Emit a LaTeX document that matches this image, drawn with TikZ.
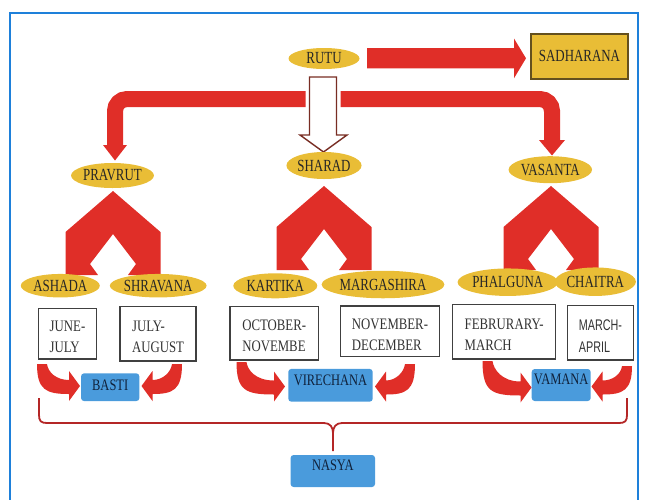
\documentclass[tikz,border=0pt]{standalone}
\usepackage{fontspec}
\setmainfont{Liberation Serif}
\newfontfamily\elfont[FakeStretch=0.76]{Liberation Serif}
\newfontfamily\mfont[FakeStretch=0.8]{Liberation Serif}
\newfontfamily\msans[FakeStretch=0.7]{Liberation Sans}
\newfontfamily\bluefont[FakeStretch=0.78]{Liberation Serif}
\usetikzlibrary{shapes.geometric}
\definecolor{gold}{RGB}{233,189,54}
\definecolor{arrred}{RGB}{224,46,40}
\definecolor{boxblue}{RGB}{74,155,220}
\definecolor{framebl}{RGB}{30,128,218}
\definecolor{bracered}{RGB}{180,38,38}
\definecolor{hollowbr}{RGB}{120,45,35}
\definecolor{goldedge}{RGB}{100,80,30}
\definecolor{navytext}{RGB}{16,33,58}
\newcommand\chevronat[2]{%
  \fill[arrred, shift={(#1,#2)}] (0,0) -- (-47.5,41) -- (-47.5,84) -- (-15,84)
    -- (-23,73) -- (0,43) -- (23,73) -- (15,84) -- (47.5,84) -- (47.5,41) -- cycle;}
\newcommand\cvarrow[5]{%
  \fill[arrred] ({#1-5*#5},#2) .. controls ({#1-5*#5},{#4+4}) and ({#1+4*#5},{#4+8}) .. ({#3-11*#5},{#4+8})
    -- ({#3-11*#5},{#4+15}) -- (#3,#4) -- ({#3-11*#5},{#4-15}) -- ({#3-11*#5},{#4-6})
    .. controls ({#1+14*#5},{#4-6}) and ({#1+6*#5},{#2+8}) .. ({#1+5*#5},#2) -- cycle;}
\begin{document}
\begin{tikzpicture}[x=1pt,y=-1pt,
  season/.style={ellipse, fill=gold, inner sep=0pt, font=\elfont\fontsize{17}{20}\selectfont, text=black!85},
  month/.style={draw=black!75, line width=1.3pt, fill=white, inner sep=0pt, align=left,
    font=\mfont\fontsize{16}{21}\selectfont, text=black!80},
  therapy/.style={fill=boxblue, rounded corners=3pt, inner sep=0pt,
    font=\bluefont\fontsize{16}{18}\selectfont, text=navytext},
  redbar/.style={draw=arrred, line width=16pt, rounded corners=12pt},
  brace/.style={draw=bracered, line width=1.8pt}
]
\useasboundingbox (0,0) rectangle (650,499);
\draw[framebl, line width=1.5pt] (10,13) rectangle (638,530);

% bent red bar from RUTU
\coordinate (lb) at (115,146);
\coordinate (rb) at (552,141);
\draw[redbar] (lb) -- (115,99) -- (552,99) -- (rb);
\fill[arrred] (103,145) -- (127,145) -- (115,160.5) -- cycle;
\fill[arrred] (539,140) -- (565,140) -- (552,155.5) -- cycle;

% hollow arrow to SHARAD
\draw[white, line width=8pt] (309.5,77) -- (336.5,77) -- (336.5,135) -- (347,135) -- (323.5,152) -- (300,135) -- (309.5,135) -- cycle;
\draw[hollowbr, fill=white, line width=1.4pt] (309.5,77) -- (336.5,77) -- (336.5,135) -- (347,135) -- (323.5,152) -- (300,135) -- (309.5,135) -- cycle;

% straight arrow to SADHARANA
\fill[arrred] (367,48) -- (514,48) -- (514,38.5) -- (526,58.3) -- (514,78.3) -- (514,68.3) -- (367,68.3) -- cycle;

% chevrons
\chevronat{113}{191}
\chevronat{324}{186}
\chevronat{551}{186}

% curved arrows
\cvarrow{42}{364}{80}{386}{1}
\cvarrow{177}{364}{141.5}{386}{-1}
\cvarrow{241.5}{362}{285}{386.5}{1}
\cvarrow{410}{364}{375}{386.5}{-1}
\cvarrow{487.5}{361}{531.5}{387.5}{1}
\cvarrow{627}{366}{591.5}{386.5}{-1}

% brace
\draw[brace] (39,398) -- (39,415) .. controls (39,421) and (41,423) .. (47,423) -- (324,423)
  .. controls (330,423) and (333,427) .. (333,433) -- (333,451);
\draw[brace] (627,398) -- (627,415) .. controls (627,421) and (625,423) .. (619,423) -- (342,423)
  .. controls (336,423) and (333,427) .. (333,433);

% nodes
\node[season, minimum width=71pt, minimum height=21pt] (rutu) at (324,58.5) {RUTU};
\node[draw=goldedge, line width=2pt, fill=gold, minimum width=97pt, minimum height=45pt, inner sep=0pt,
  font=\elfont\fontsize{17}{20}\selectfont, text=black!85] (sadh) at (579.5,56) {SADHARANA};
\node[season, minimum width=77pt, minimum height=25pt] (pravrut) at (112.5,175.5) {PRAVRUT};
\node[season, minimum width=72pt, minimum height=27pt] (sharad) at (324,165.5) {SHARAD};
\node[season, minimum width=81pt, minimum height=27pt] (vasanta) at (550.3,169.7) {VASANTA};
\node[season, minimum width=79pt, minimum height=23.5pt] (ashada) at (60.3,285.7) {ASHADA};
\node[season, minimum width=88pt, minimum height=23.5pt] (shravana) at (158.2,285.7) {SHRAVANA};
\node[season, minimum width=84pt, minimum height=25pt] (kartika) at (275.3,285.8) {KARTIKA};
\node[season, minimum width=103pt, minimum height=27.5pt] (margashira) at (383,284.5) {MARGASHIRA};
\node[season, minimum width=84pt, minimum height=27.5pt] (phalguna) at (507.8,282.2) {PHALGUNA};
\node[season, minimum width=69pt, minimum height=28.5pt] (chaitra) at (595.3,281.7) {CHAITRA};

\node[month, minimum width=58.4pt, minimum height=50.7pt] (junejuly) at (67.5,333.7) {\rule{0pt}{16.6pt}JUNE-\\JULY};
\node[month, minimum width=76pt, minimum height=54.3pt] (julyaug) at (158,333.8) {\rule{0pt}{16.6pt}JULY-\\AUGUST};
\node[month, minimum width=88.3pt, minimum height=53.3pt] (octnov) at (274.2,333.3) {\rule{0pt}{16.6pt}OCTOBER-\\NOVEMBE};
\node[month, minimum width=98.6pt, minimum height=50.7pt] (novdec) at (390,331.3) {\rule{0pt}{16.6pt}NOVEMBER-\\DECEMBER};
\node[month, minimum width=103pt, minimum height=54.7pt] (febmar) at (504.2,331.7) {\rule{0pt}{16.6pt}FEBRURARY-\\MARCH};
\node[month, minimum width=65.6pt, minimum height=54.3pt, font=\msans\fontsize{15.4}{22}\selectfont] (marapr) at (600.5,332.8) {\rule{0pt}{16.6pt}MARCH-\\APRIL};

\node[therapy, minimum width=58.3pt, minimum height=27.7pt, text height=5.6pt, text depth=0pt] (basti) at (110.2,387.2) {BASTI};
\node[therapy, minimum width=84.4pt, minimum height=32.7pt, text height=0pt, text depth=0pt] (virechana) at (330.5,385.3) {VIRECHANA};
\node[therapy, minimum width=59pt, minimum height=32pt, text height=0pt, text depth=1.4pt] (vamana) at (561.2,385) {VAMANA};
\node[therapy, minimum width=84.4pt, minimum height=32pt, text height=0pt, text depth=2pt] (nasya) at (332.8,471) {NASYA};
\end{tikzpicture}
\end{document}
